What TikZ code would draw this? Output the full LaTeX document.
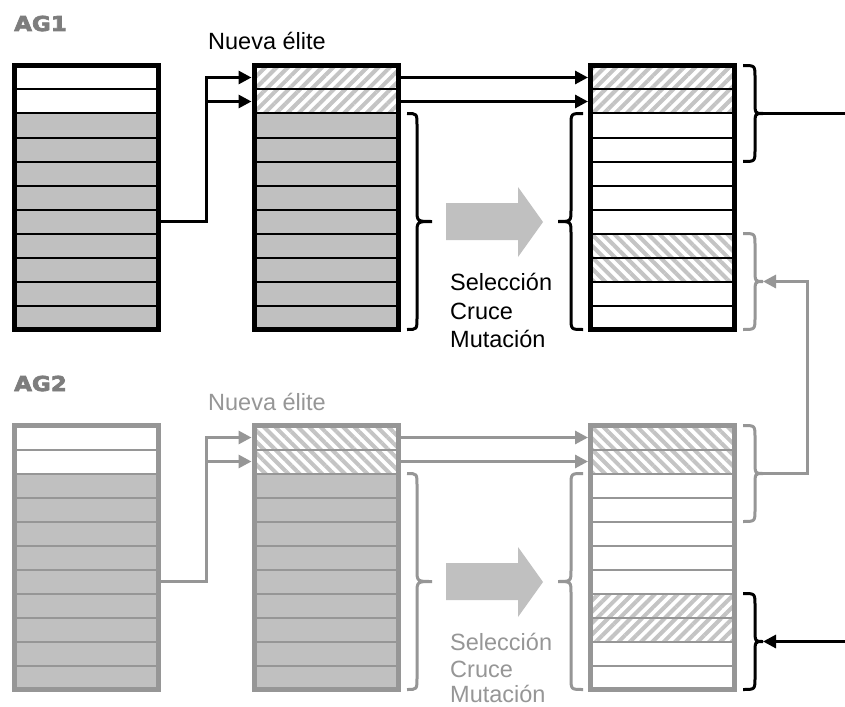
\documentclass[tikz,border=0pt]{standalone}
\usepackage{fontspec}
\setmainfont{Liberation Sans}
\newfontfamily\labfont[FakeStretch=1.12,FakeBold=3.5]{DejaVu Sans Bold}
\usetikzlibrary{arrows.meta,patterns.meta,fit}

\definecolor{gfill}{RGB}{192,192,192}
\definecolor{gline}{RGB}{150,150,150}
\definecolor{labgray}{RGB}{125,125,125}
\definecolor{hatch}{RGB}{196,196,196}

\tikzset{
  rowbox/.style={rectangle, minimum width=144pt, minimum height=24pt, inner sep=0pt, outer sep=0pt, line width=2pt, anchor=north west},
  rw/.style={fill=white},
  rg/.style={fill=gfill},
  rne/.style={pattern={Lines[angle=45,distance=8pt,line width=4pt]}, pattern color=hatch},
  rnw/.style={pattern={Lines[angle=-45,distance=8pt,line width=4pt]}, pattern color=hatch},
  rowkind/.code={\edef\rktmp{#1}\expandafter\pgfkeysalso\expandafter{\rktmp}},
  popframe/.style={draw, line width=5pt, inner sep=0pt, outer sep=0pt, rectangle},
  conn1/.style={line width=3pt, draw=black},
  conn2/.style={line width=3pt, draw=gline},
  arrowed/.style={-{Triangle[length=13pt,width=13pt]}},
  brace1/.style={line width=3pt, draw=black},
  brace2/.style={line width=3pt, draw=gline},
  bigtxt/.style={anchor=base west, inner sep=0pt, font=\fontsize{23.5}{28}\selectfont},
  labtxt/.style={anchor=base west, inner sep=0pt, text=labgray, font=\labfont\fontsize{20.5}{20.5}\selectfont},
  fatarrow/.style={fill=gfill}
}

% #1 name, #2 x left, #3 y top, #4 line colour, #5 row kinds
\newcommand{\popblock}[5]{%
  \foreach \k [count=\i] in {#5} {
    \node[rowbox, draw=#4, rowkind=\k] (#1-\i) at (#2, {#3+24*(\i-1)}) {};
  }
  \node[popframe, draw=#4, fit=(#1-1)(#1-11)] (#1) {};
}

% #1 style, #2 tip name, #3 x open ends, #4 y top, #5 y bottom, #6 spine offset, #7 tip offset
\newcommand{\cbrace}[7]{%
  \pgfmathsetmacro{\bym}{(#4+#5)/2}
  \pgfmathsetmacro{\bxa}{#3+#6}
  \pgfmathsetmacro{\bxb}{#3+#7}
  \draw[#1] (#3,#4) .. controls (\bxa,#4) .. (\bxa,#4+12) -- (\bxa,\bym-12)
    .. controls (\bxa,\bym) .. (\bxb,\bym)
    .. controls (\bxa,\bym) .. (\bxa,\bym+12) -- (\bxa,#5-12)
    .. controls (\bxa,#5) .. (#3,#5);
  \coordinate (#2) at (\bxb,\bym);
}

\begin{document}
\begin{tikzpicture}[x=1pt,y=-1pt]
\fill[white] (0,0) rectangle (845,706);
\useasboundingbox (0,0) rectangle (845,706);

% ---------------- AG1 ----------------
\node[labtxt] (ag1) at (14,31) {AG1};
\node[bigtxt] (ne1) at (208,50) {Nueva élite};

\popblock{a1}{14.5}{65.5}{black}{rw,rw,rg,rg,rg,rg,rg,rg,rg,rg,rg}
\popblock{b1}{254}{65.5}{black}{rne,rne,rg,rg,rg,rg,rg,rg,rg,rg,rg}
\popblock{c1}{590.5}{65.5}{black}{rne,rne,rw,rw,rw,rw,rw,rnw,rnw,rw,rw}

\fill[fatarrow] (446,203) -- (518,203) -- (518,187) -- (543,222) -- (518,257) -- (518,240) -- (446,240) -- cycle;
\node[bigtxt] (sel1) at (450,290.5) {Selección};
\node[bigtxt] (cru1) at (450,319) {Cruce};
\node[bigtxt] (mut1) at (450,347.3) {Mutación};

\cbrace{brace1}{br-b1}{407}{113.5}{329.5}{10}{25}
\cbrace{brace1}{bl-c1}{583}{113.5}{329.5}{-12}{-25}
\cbrace{brace1}{bt-c1}{743}{65.5}{161.5}{12}{20}
\cbrace{brace2}{bb-c1}{743}{233.5}{329.5}{12}{20}

% ---------------- AG2 ----------------
\node[labtxt] (ag2) at (14,391) {AG2};
\node[bigtxt, text=gline] (ne2) at (208,410) {Nueva élite};

\popblock{a2}{14.5}{425.5}{gline}{rw,rw,rg,rg,rg,rg,rg,rg,rg,rg,rg}
\popblock{b2}{254}{425.5}{gline}{rnw,rnw,rg,rg,rg,rg,rg,rg,rg,rg,rg}
\popblock{c2}{590.5}{425.5}{gline}{rnw,rnw,rw,rw,rw,rw,rw,rne,rne,rw,rw}

\fill[fatarrow] (446,563) -- (518,563) -- (518,547) -- (543,582) -- (518,617) -- (518,600) -- (446,600) -- cycle;
\node[bigtxt, text=gline] (sel2) at (450,650.5) {Selección};
\node[bigtxt, text=gline] (cru2) at (450,677.5) {Cruce};
\node[bigtxt, text=gline] (mut2) at (450,702) {Mutación};

\cbrace{brace2}{br-b2}{407}{473.5}{689.5}{10}{25}
\cbrace{brace2}{bl-c2}{583}{473.5}{689.5}{-12}{-25}
\cbrace{brace2}{bt-c2}{743}{425.5}{521.5}{12}{20}
\cbrace{brace1}{bb-c2}{743}{593.5}{689.5}{12}{20}

% ---------------- connectors ----------------
\draw[conn1,arrowed,shorten >=2.5pt] (a1-7.east) -- ++(47.5,0) |- (b1-1.west);
\draw[conn1,arrowed,shorten >=2.5pt] (a1-7.east) -- ++(47.5,0) |- (b1-2.west);
\draw[conn1,arrowed,shorten >=2.5pt] (b1-1.east) -- (c1-1.west);
\draw[conn1,arrowed,shorten >=2.5pt] (b1-2.east) -- (c1-2.west);

\draw[conn2,arrowed,shorten >=2.5pt] (a2-7.east) -- ++(47.5,0) |- (b2-1.west);
\draw[conn2,arrowed,shorten >=2.5pt] (a2-7.east) -- ++(47.5,0) |- (b2-2.west);
\draw[conn2,arrowed,shorten >=2.5pt] (b2-1.east) -- (c2-1.west);
\draw[conn2,arrowed,shorten >=2.5pt] (b2-2.east) -- (c2-2.west);

\coordinate (out1) at (845,113.5);
\draw[conn1] (bt-c1) -- (out1);
\draw[conn2,arrowed] (bt-c2) -- ++(44,0) |- (bb-c1);
\coordinate (in2) at (845,641.5);
\draw[conn1,arrowed] (in2) -- (bb-c2);
\end{tikzpicture}
\end{document}
